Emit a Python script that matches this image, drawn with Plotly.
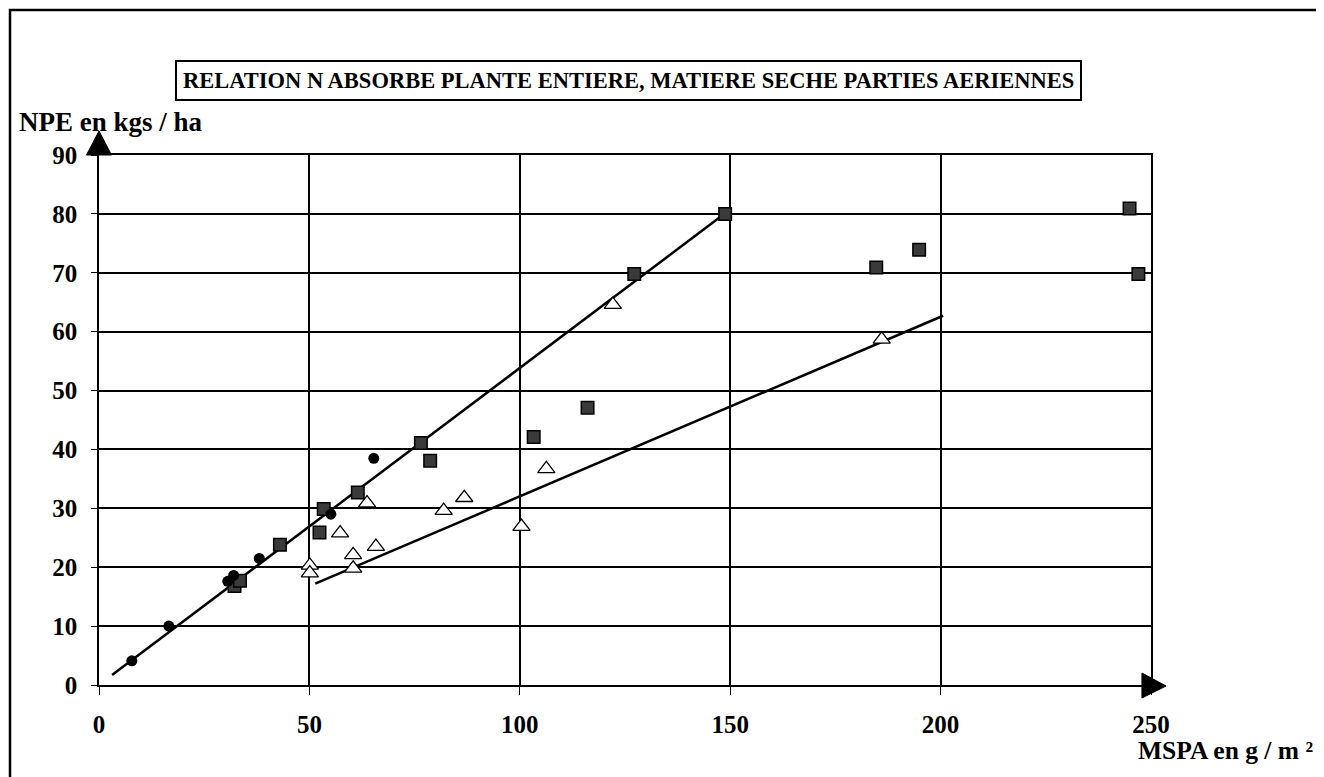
import plotly.graph_objects as go

# data (MSPA g/m2, NPE kg/ha)
circle_x = [7.8, 16.6, 30.6, 32.0, 38.1, 55.1, 65.3]
circle_y = [4.1, 10.0, 17.6, 18.6, 21.5, 29.0, 38.5]

square_x = [32.2, 33.5, 43.0, 52.4, 53.4, 61.5, 76.5, 78.7, 103.3, 116.1, 127.2, 148.8, 184.7, 194.9, 244.9, 247.0]
square_y = [16.8, 17.7, 23.8, 25.9, 29.9, 32.7, 41.1, 38.1, 42.1, 47.1, 69.8, 80.0, 70.9, 73.9, 80.9, 69.8]

tri_x = [50.1, 50.1, 57.3, 60.4, 60.4, 63.7, 65.8, 81.9, 86.8, 100.4, 106.3, 122.1, 186.0]
tri_y = [20.3, 19.0, 25.8, 22.1, 19.8, 30.9, 23.5, 29.6, 31.8, 26.9, 36.7, 64.6, 58.7]

# the two hand-drawn regression lines (end points)
line1_x = [3.1, 148.8]
line1_y = [1.7, 80.1]
line2_x = [51.4, 200.6]
line2_y = [17.2, 62.7]

x_ticks = [0, 50, 100, 150, 200, 250]
y_ticks = [0, 10, 20, 30, 40, 50, 60, 70, 80, 90]

serif = "Liberation Serif, Times New Roman, serif"

fig = go.Figure()
fig.add_trace(go.Scatter(x=line1_x, y=line1_y, mode="lines",
                         line=dict(color="black", width=2.5), showlegend=False))
fig.add_trace(go.Scatter(x=line2_x, y=line2_y, mode="lines",
                         line=dict(color="black", width=2.5), showlegend=False))
fig.add_trace(go.Scatter(x=tri_x, y=tri_y, mode="markers",
                         marker=dict(symbol="triangle-up", size=15, color="white",
                                     line=dict(color="black", width=1.3)),
                         showlegend=False))
fig.add_trace(go.Scatter(x=square_x, y=square_y, mode="markers",
                         marker=dict(symbol="square", size=12.5, color="#3a3a3a",
                                     line=dict(color="black", width=1.5)),
                         showlegend=False))
fig.add_trace(go.Scatter(x=circle_x, y=circle_y, mode="markers",
                         marker=dict(symbol="circle", size=11, color="black"),
                         showlegend=False))

fig.update_xaxes(range=[0, 250], tickvals=x_ticks, showgrid=True, gridcolor="black",
                 gridwidth=1.5, zeroline=False, showline=True, linecolor="black",
                 linewidth=1.5, mirror=True, ticks="outside", ticklen=8,
                 tickcolor="black", ticklabelstandoff=8,
                 tickfont=dict(family=serif, size=25, color="black", weight="bold"))
fig.update_yaxes(range=[0, 90], tickvals=y_ticks, showgrid=True, gridcolor="black",
                 gridwidth=1.5, zeroline=False, showline=True, linecolor="black",
                 linewidth=1.5, mirror=True, ticks="outside", ticklen=6,
                 tickcolor="black", ticklabelstandoff=9,
                 tickfont=dict(family=serif, size=25, color="black", weight="bold"))

fig.add_annotation(text="<b>RELATION N ABSORBE PLANTE ENTIERE, MATIERE SECHE PARTIES AERIENNES</b>",
                   xref="paper", yref="paper", x=0.503, y=1.1415, showarrow=False,
                   xanchor="center", yanchor="middle",
                   font=dict(family=serif, size=22.5, color="black"),
                   bordercolor="black", borderwidth=2, borderpad=6, bgcolor="white")
fig.add_annotation(text="<b>NPE en kgs / ha</b>", xref="paper", yref="paper",
                   x=-0.078, y=1.062, showarrow=False, xanchor="left", yanchor="middle",
                   font=dict(family=serif, size=27, color="black"))
fig.add_annotation(text="<b>MSPA en g / m ²</b>", xref="paper", yref="paper",
                   x=0.9857, y=-0.1245, showarrow=False, xanchor="left", yanchor="middle",
                   font=dict(family=serif, size=25.5, color="black"))

# arrow heads at the ends of both axes
fig.add_shape(type="path", xref="paper", yref="paper",
              path="M -0.0119,1.0 L 0,1.0453 L 0.0119,1.0 Z",
              fillcolor="black", line=dict(color="black", width=1))
fig.add_shape(type="path", xref="paper", yref="paper",
              path="M 0.9914,0.0226 L 1.0143,-0.0019 L 0.9914,-0.0245 Z",
              fillcolor="black", line=dict(color="black", width=1))

# outer frame of the scanned figure
fig.add_shape(type="rect", xref="paper", yref="paper",
              x0=-0.0846, x1=1.1607, y0=-0.3, y1=1.2736,
              line=dict(color="black", width=2.5))

# page body adds a small offset, so the figure is drawn slightly smaller
fig.update_layout(width=1317, height=770, plot_bgcolor="white", paper_bgcolor="white",
                  margin=dict(l=91, r=174, t=147, b=93), showlegend=False)

fig.write_html("out.html")
